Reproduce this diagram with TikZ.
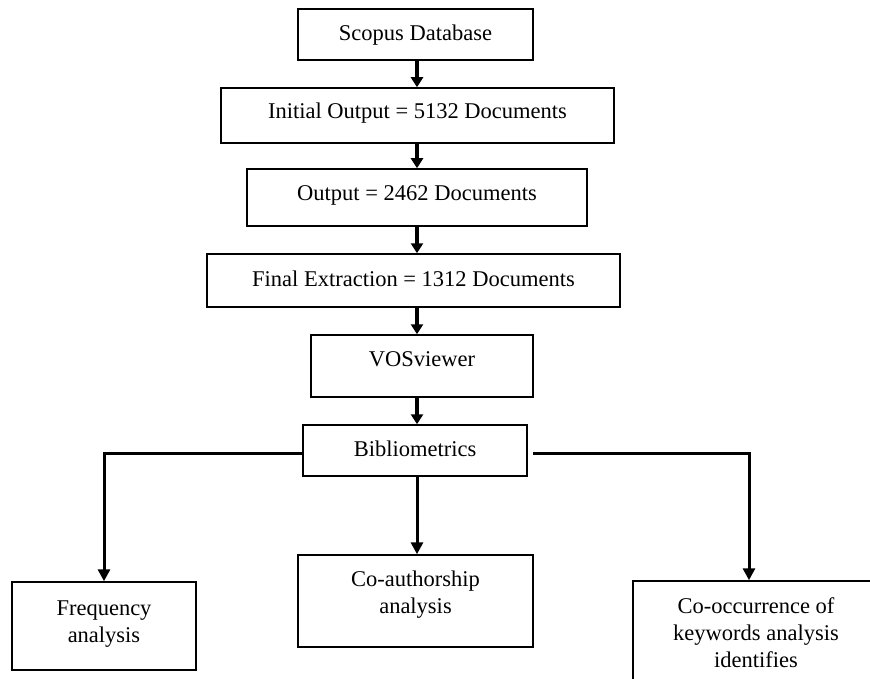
\documentclass[tikz,border=0pt]{standalone}
\usepackage{fontspec}
\setmainfont{Liberation Serif}
\usetikzlibrary{arrows.meta}

\tikzset{
  box/.style={draw, line width=1.5pt, align=center, inner sep=0pt,
    font=\fontsize{22.5}{27}\selectfont},
  flow/.style={line width=3.8pt, -{Triangle[length=10pt,width=12pt]}},
  branch/.style={line width=3pt, -{Triangle[length=12pt,width=12pt]}}
}

\begin{document}
\begin{tikzpicture}[x=1pt,y=-1pt]
      \useasboundingbox (0,0) rectangle (870,679);
      \clip (0,0) rectangle (870,679);
      % id / x / y / width / height / text height / text depth / text
      \def \Nodes{
        scopus/415.5/34.5/235/51/15/2/{Scopus Database},
        initial/417.5/115.5/393/55/15/8/{Initial Output = 5132 Documents},
        output/417/197.5/340/57/15/8/{Output = 2462 Documents},
        final/413.5/280.5/413/53/15/4/{Final Extraction = 1312 Documents},
        vos/422/366/222/62/15/14/{VOSviewer},
        bib/415/450.5/224/51/15/3/{Bibliometrics},
        freq/104/626/184/88/42/10/{Frequency\\analysis},
        coauth/415.5/601/235/92/42/18/{Co-authorship\\analysis},
        cooc/756/643/246/124/69/21/{Co-occurrence of\\keywords analysis\\identifies}}
      \def \Edges{
        scopus/initial,
        initial/output,
        output/final,
        final/vos,
        vos/bib}
      \foreach \id / \x / \y / \w / \h / \t / \d / \txt in \Nodes{
        \node[box, minimum width=\w pt, minimum height=\h pt,
          text height=\t pt, text depth=\d pt] (\id) at (\x, \y) {\txt};
      }
      \coordinate (spine) at (417, 0);
      \foreach \x / \y in \Edges{
        \path[draw,flow] (\x.south -| spine) -- (\y.north -| spine);
      }
      \path[draw,branch] (bib.south -| spine) -- (coauth.north -| spine);
      \path[draw,branch] ([yshift=-3pt]bib.west) -| (freq.north);
      \path[draw,branch] ([xshift=5pt,yshift=-3pt]bib.east) -| ([xshift=-7pt]cooc.north);
    \end{tikzpicture}
\end{document}
